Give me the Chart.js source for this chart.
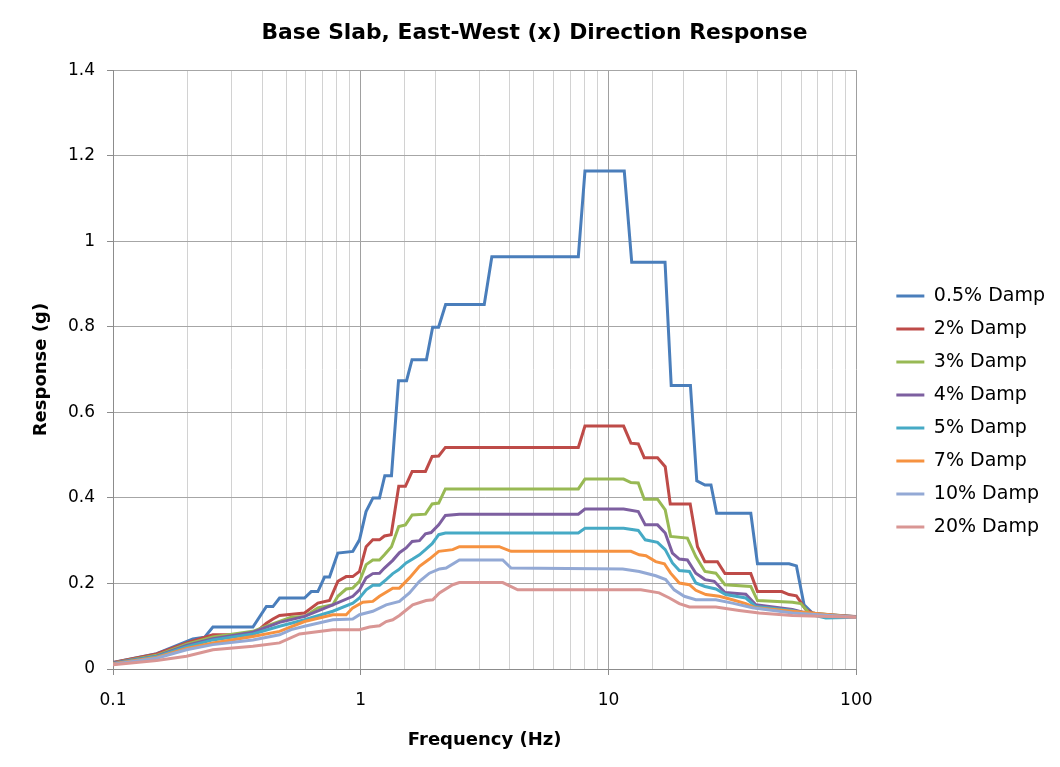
<!DOCTYPE html>
<html>
<head>
<meta charset="utf-8">
<script src="https://cdn.jsdelivr.net/npm/chart.js@4.4.1/dist/chart.umd.min.js"></script>
<style>
  html, body { margin: 0; padding: 0; background: #ffffff; }
  #wrap { width: 1060px; height: 767px; }
</style>
</head>
<body>
<div id="wrap"><canvas id="c" width="1060" height="767"></canvas></div>
<script>
// ---- Data ----
const chartTitle = 'Base Slab, East-West (x) Direction Response';
const xAxisTitle = 'Frequency (Hz)';
const yAxisTitle = 'Response (g)';
const xTickLabels = [0.1, 1, 10, 100];
const yTickLabels = [0, 0.2, 0.4, 0.6, 0.8, 1, 1.2, 1.4];
const seriesLabels = ['0.5% Damp', '2% Damp', '3% Damp', '4% Damp', '5% Damp', '7% Damp', '10% Damp', '20% Damp'];

const freq05 = [0.1, 0.15, 0.21, 0.234, 0.253, 0.367, 0.416, 0.442, 0.47, 0.593, 0.631, 0.671, 0.714, 0.748, 0.808, 0.929, 0.988, 1.05, 1.12, 1.19, 1.25, 1.33, 1.42, 1.53, 1.61, 1.84, 1.95, 2.06, 2.2, 3.15, 3.38, 7.55, 8.03, 11.57, 12.4, 16.9, 17.9, 21.4, 22.7, 24.5, 25.9, 27.3, 37.5, 39.9, 53.5, 57.3, 61.5, 66.5, 75.3, 100];
const resp05 = [0.015, 0.036, 0.070, 0.074, 0.098, 0.098, 0.146, 0.146, 0.166, 0.166, 0.181, 0.181, 0.215, 0.215, 0.271, 0.275, 0.302, 0.368, 0.400, 0.400, 0.452, 0.452, 0.674, 0.674, 0.723, 0.723, 0.799, 0.799, 0.852, 0.852, 0.964, 0.964, 1.164, 1.164, 0.951, 0.951, 0.663, 0.663, 0.440, 0.430, 0.430, 0.364, 0.364, 0.246, 0.246, 0.241, 0.150, 0.131, 0.125, 0.121];

const freq2 = [0.1, 0.15, 0.198, 0.253, 0.367, 0.416, 0.442, 0.47, 0.593, 0.671, 0.748, 0.808, 0.873, 0.928, 0.988, 1.051, 1.118, 1.19, 1.246, 1.326, 1.423, 1.514, 1.612, 1.824, 1.941, 2.063, 2.195, 7.55, 8.03, 11.5, 12.31, 13.18, 13.93, 15.76, 16.93, 17.74, 21.35, 22.85, 24.47, 27.5, 29.5, 37.5, 39.9, 50.0, 53.5, 57.3, 62.5, 66.5, 75.3, 100];
const resp2 = [0.015, 0.035, 0.061, 0.080, 0.080, 0.107, 0.117, 0.125, 0.131, 0.154, 0.160, 0.205, 0.216, 0.216, 0.228, 0.286, 0.302, 0.302, 0.311, 0.314, 0.427, 0.427, 0.462, 0.462, 0.497, 0.498, 0.518, 0.518, 0.568, 0.568, 0.528, 0.526, 0.494, 0.494, 0.473, 0.386, 0.386, 0.286, 0.251, 0.251, 0.223, 0.223, 0.181, 0.181, 0.174, 0.171, 0.139, 0.131, 0.125, 0.123];

const freq3 = [0.1, 0.15, 0.198, 0.253, 0.367, 0.416, 0.47, 0.524, 0.593, 0.671, 0.771, 0.808, 0.873, 0.928, 0.988, 1.051, 1.118, 1.19, 1.246, 1.33, 1.423, 1.514, 1.612, 1.824, 1.941, 2.063, 2.195, 7.55, 8.03, 11.5, 12.31, 13.18, 13.93, 15.76, 16.93, 17.8, 20.8, 22.5, 24.5, 27.1, 29.5, 37.5, 39.9, 55.2, 59.7, 64.5, 100];
const resp3 = [0.014, 0.032, 0.058, 0.075, 0.088, 0.100, 0.111, 0.121, 0.123, 0.143, 0.150, 0.170, 0.187, 0.189, 0.205, 0.244, 0.255, 0.255, 0.267, 0.286, 0.333, 0.337, 0.360, 0.362, 0.386, 0.388, 0.421, 0.421, 0.444, 0.444, 0.436, 0.435, 0.397, 0.397, 0.372, 0.310, 0.306, 0.263, 0.228, 0.224, 0.197, 0.193, 0.160, 0.156, 0.153, 0.131, 0.122];

const freq4 = [0.1, 0.15, 0.198, 0.253, 0.367, 0.47, 0.593, 0.771, 0.929, 0.988, 1.051, 1.118, 1.19, 1.246, 1.346, 1.432, 1.524, 1.612, 1.725, 1.824, 1.922, 2.063, 2.195, 2.5, 7.55, 8.03, 11.5, 13.18, 14.06, 15.76, 16.93, 18.1, 19.3, 20.8, 22.5, 24.5, 26.7, 29.5, 35.8, 39.3, 55.2, 62.5, 100];
const resp4 = [0.014, 0.030, 0.055, 0.071, 0.086, 0.109, 0.123, 0.150, 0.170, 0.185, 0.213, 0.223, 0.224, 0.236, 0.254, 0.272, 0.283, 0.298, 0.300, 0.316, 0.319, 0.337, 0.359, 0.362, 0.362, 0.374, 0.374, 0.368, 0.337, 0.337, 0.318, 0.271, 0.257, 0.255, 0.224, 0.209, 0.205, 0.179, 0.175, 0.150, 0.139, 0.131, 0.122];

const freq5 = [0.1, 0.15, 0.198, 0.253, 0.367, 0.47, 0.593, 0.771, 0.929, 0.988, 1.051, 1.118, 1.19, 1.266, 1.346, 1.42, 1.524, 1.62, 1.725, 1.824, 1.941, 2.063, 2.195, 7.55, 8.03, 11.5, 13.18, 14.06, 15.76, 16.93, 18.1, 19.3, 21.2, 22.5, 24.5, 27.1, 29.7, 35.8, 39.3, 55.2, 75.3, 100];
const resp5 = [0.013, 0.029, 0.052, 0.068, 0.082, 0.100, 0.115, 0.135, 0.154, 0.166, 0.185, 0.196, 0.196, 0.209, 0.223, 0.232, 0.248, 0.257, 0.267, 0.279, 0.293, 0.314, 0.318, 0.318, 0.329, 0.329, 0.324, 0.302, 0.296, 0.279, 0.248, 0.230, 0.228, 0.201, 0.193, 0.187, 0.174, 0.166, 0.146, 0.137, 0.119, 0.121];

const freq7 = [0.1, 0.15, 0.198, 0.253, 0.367, 0.47, 0.593, 0.771, 0.873, 0.928, 1.019, 1.118, 1.19, 1.346, 1.432, 1.572, 1.725, 1.892, 2.063, 2.35, 2.5, 3.62, 4.04, 12.31, 13.3, 14.15, 15.5, 16.8, 17.8, 19.3, 21.2, 22.5, 24.7, 27.95, 31.6, 35.8, 39.3, 55.2, 100];
const resp7 = [0.012, 0.027, 0.048, 0.061, 0.076, 0.088, 0.111, 0.127, 0.127, 0.143, 0.156, 0.158, 0.170, 0.189, 0.189, 0.213, 0.240, 0.257, 0.275, 0.279, 0.286, 0.286, 0.275, 0.275, 0.267, 0.265, 0.251, 0.246, 0.224, 0.201, 0.197, 0.184, 0.174, 0.170, 0.162, 0.153, 0.143, 0.135, 0.121];

const freq10 = [0.1, 0.15, 0.198, 0.253, 0.367, 0.47, 0.524, 0.593, 0.771, 0.928, 0.988, 1.118, 1.266, 1.432, 1.572, 1.725, 1.892, 2.077, 2.21, 2.5, 3.74, 4.04, 11.4, 13.3, 15.5, 17.0, 18.4, 20.2, 22.5, 27.1, 31.6, 38.1, 55.2, 100];
const resp10 = [0.011, 0.025, 0.045, 0.057, 0.068, 0.080, 0.092, 0.100, 0.115, 0.117, 0.127, 0.135, 0.150, 0.158, 0.178, 0.205, 0.224, 0.234, 0.236, 0.255, 0.255, 0.236, 0.234, 0.228, 0.218, 0.209, 0.185, 0.170, 0.162, 0.162, 0.154, 0.143, 0.131, 0.121];

const freq20 = [0.1, 0.15, 0.198, 0.253, 0.367, 0.47, 0.566, 0.771, 0.988, 1.084, 1.19, 1.266, 1.346, 1.432, 1.62, 1.835, 1.951, 2.077, 2.35, 2.5, 3.74, 4.30, 13.5, 16.0, 17.6, 19.3, 21.2, 27.1, 33.65, 40.5, 55.2, 100];
const resp20 = [0.010, 0.020, 0.030, 0.045, 0.053, 0.061, 0.082, 0.092, 0.092, 0.098, 0.101, 0.111, 0.115, 0.125, 0.150, 0.160, 0.162, 0.178, 0.197, 0.202, 0.202, 0.185, 0.185, 0.178, 0.166, 0.153, 0.145, 0.145, 0.137, 0.131, 0.125, 0.121];

const seriesFreqs = [freq05, freq2, freq3, freq4, freq5, freq7, freq10, freq20];
const seriesResps = [resp05, resp2, resp3, resp4, resp5, resp7, resp10, resp20];

// ---- Styles ----
const seriesColors = ['#4A7EBB', '#BE4B48', '#98B954', '#7D5FA0', '#46AAC5', '#F69240', '#93A9D5', '#D99694'];
const FONT = 'DejaVu Sans';

const datasets = seriesLabels.map((label, i) => ({
  label: label,
  data: seriesFreqs[i].map((f, k) => ({ x: f, y: seriesResps[i][k] })),
  borderColor: seriesColors[i],
  backgroundColor: seriesColors[i],
  borderWidth: 3,
  pointRadius: 0,
  pointHoverRadius: 0,
  tension: 0,
  fill: false,
  order: seriesLabels.length - 1 - i
}));

function isDecade(v) {
  const l = Math.log10(v);
  return Math.abs(l - Math.round(l)) < 1e-6;
}

new Chart(document.getElementById('c'), {
  type: 'line',
  data: { datasets: datasets },
  options: {
    responsive: false,
    animation: false,
    devicePixelRatio: 1,
    layout: { padding: { left: 14, right: 5, top: 0, bottom: 0 } },
    plugins: {
      tooltip: { enabled: false },
      title: {
        display: true,
        text: chartTitle,
        color: '#000',
        font: { family: FONT, size: 21.8, weight: 'bold' },
        padding: { top: 20, bottom: 24 }
      },
      legend: {
        position: 'right',
        align: 'start',
        fullSize: false,
        title: { display: true, text: '', font: { size: 12 }, padding: { top: 188, bottom: 0 } },
        labels: {
          boxWidth: 28,
          boxHeight: 3,
          padding: 14,
          color: '#000',
          font: { family: FONT, size: 19 },
          generateLabels: (chart) => chart.data.datasets.map((ds, i) => ({
            text: ds.label,
            fillStyle: ds.borderColor,
            strokeStyle: ds.borderColor,
            lineWidth: 0,
            hidden: false,
            datasetIndex: i,
            fontColor: '#000'
          }))
        }
      }
    },
    scales: {
      x: {
        type: 'logarithmic',
        position: 'bottom',
        min: 0.1,
        max: 100,
        afterFit: (s) => { s.height = 98; },
        ticks: {
          autoSkip: false,
          maxRotation: 0,
          minRotation: 0,
          color: '#000',
          padding: 15,
          font: { family: FONT, size: 17 },
          callback: (v) => (isDecade(v) && xTickLabels.some(t => Math.abs(t - v) < 1e-9)) ? String(v) : ''
        },
        grid: {
          color: (ctx) => (ctx.tick && isDecade(ctx.tick.value)) ? '#a0a0a0' : '#d2d2d2',
          lineWidth: 1,
          tickLength: 6,
          tickColor: (ctx) => (ctx.tick && isDecade(ctx.tick.value)) ? '#8c8c8c' : 'rgba(0,0,0,0)'
        },
        border: { color: '#8c8c8c', width: 1 },
        title: {
          display: true,
          text: xAxisTitle,
          color: '#000',
          font: { family: FONT, size: 18, weight: 'bold' },
          padding: { top: 0, bottom: 16 }
        }
      },
      y: {
        type: 'linear',
        position: 'left',
        min: yTickLabels[0],
        max: yTickLabels[yTickLabels.length - 1],
        afterFit: (s) => { s.width = 99; },
        afterBuildTicks: (s) => { s.ticks = yTickLabels.map(v => ({ value: v })); },
        ticks: {
          color: '#000',
          padding: 12,
          font: { family: FONT, size: 17 },
          callback: (v) => String(Number(v.toFixed(1)))
        },
        grid: { color: '#a6a6a6', lineWidth: 1, tickLength: 6, tickColor: '#8c8c8c' },
        border: { color: '#8c8c8c', width: 1 },
        title: {
          display: true,
          text: yAxisTitle,
          color: '#000',
          font: { family: FONT, size: 18, weight: 'bold' },
          padding: { top: 17, bottom: 0 }
        }
      },
      gap: {
        type: 'linear',
        position: 'right',
        display: true,
        afterFit: (s) => { s.width = 26; },
        ticks: { display: false },
        grid: { display: false, drawTicks: false },
        border: { display: false }
      }
    }
  }
});
</script>
</body>
</html>
